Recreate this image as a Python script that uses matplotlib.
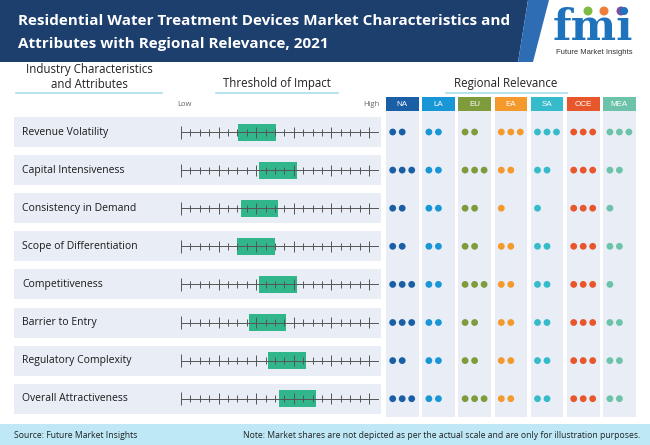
import numpy as np
import matplotlib
matplotlib.use("Agg")
import matplotlib.pyplot as plt
from matplotlib.patches import Rectangle, Polygon, Circle

plt.rcParams['font.family'] = ['Open Sans', 'DejaVu Sans']

# data
title = ("Residential Water Treatment Devices Market Characteristics and\n"
         "Attributes with Regional Relevance, 2021")
attributes = ["Revenue Volatility", "Capital Intensiveness", "Consistency in Demand",
              "Scope of Differentiation", "Competitiveness", "Barrier to Entry",
              "Regulatory Complexity", "Overall Attractiveness"]
# threshold of impact on a 0-21 tick scale (box start), box spans 4 ticks
impact_start = [6.05, 8.3, 6.35, 6.0, 8.3, 7.2, 9.3, 10.4]
impact_width = [4.0, 4.0, 4.0, 4.0, 4.0, 4.0, 4.0, 4.0]
n_ticks = 21

regions = ["NA", "LA", "EU", "EA", "SA", "OCE", "MEA"]
region_colors = ["#1A5EA6", "#1996D5", "#7E9C3B", "#F49A2C", "#36BBCA", "#E8572B", "#6CC3A9"]
# number of dots per attribute (rows) and region (columns)
relevance = [
    [2, 2, 2, 3, 3, 3, 3],
    [3, 2, 3, 2, 2, 3, 2],
    [2, 2, 2, 1, 1, 3, 1],
    [2, 2, 2, 2, 2, 3, 2],
    [3, 2, 3, 2, 2, 3, 1],
    [3, 2, 2, 2, 2, 3, 2],
    [2, 2, 2, 2, 2, 3, 2],
    [3, 2, 3, 2, 2, 3, 2],
]

# layout (pixel units)
W, H = 650, 445
row_y = 132 + 38.1 * np.arange(len(attributes))
band_bg = "#E9EDF5"

fig = plt.figure(figsize=(W / 100, H / 100), dpi=100)
ax = fig.add_axes([0, 0, 1, 1])
ax.set_xlim(0, W)
ax.set_ylim(H, 0)
ax.axis('off')

# header banner
ax.add_patch(Polygon([(0, 0), (528, 0), (518, 62), (0, 62)], closed=True,
                     facecolor="#1C3F6E", edgecolor="none"))
ax.add_patch(Polygon([(528, 0), (549, 0), (533, 62), (518, 62)], closed=True,
                     facecolor="#2E6DB4", edgecolor="none"))
ax.text(18, 21, title.split("\n")[0], color="white", fontsize=10.95, fontweight="bold",
        va="center", ha="left")
ax.text(18, 44, title.split("\n")[1], color="white", fontsize=10.95, fontweight="bold",
        va="center", ha="left")

# logo
ax.text(593, 28, "fmi", color="#1F72BC", fontsize=31, fontweight="bold",
        family="DejaVu Serif", ha="center", va="center")
for cx, c in zip([588, 604, 621], ["#7DBB42", "#EF7E3A", "#7B4E9E"]):
    ax.add_patch(Circle((cx, 11), 4.5, facecolor=c, edgecolor="none"))
ax.text(594, 52, "Future Market Insights", color="#333333", fontsize=5.5,
        family="Liberation Sans", ha="center", va="center")

# section headers
ax.text(89, 70, "Industry Characteristics", fontsize=8.3, ha="center", va="center", color="#222222")
ax.text(89, 85, "and Attributes", fontsize=8.3, ha="center", va="center", color="#222222")
ax.plot([16, 162], [92.5, 92.5], color="#A9DDEF", lw=1.2)
ax.text(277, 84, "Threshold of Impact", fontsize=8.3, ha="center", va="center", color="#222222")
ax.plot([216, 338], [92.5, 92.5], color="#A9DDEF", lw=1.2)
ax.text(506, 84, "Regional Relevance", fontsize=8.3, ha="center", va="center", color="#222222")
ax.plot([446, 567], [92.5, 92.5], color="#A9DDEF", lw=1.2)
ax.text(184, 104, "Low", fontsize=5.5, ha="center", va="center", color="#666666")
ax.text(379, 104, "High", fontsize=5.5, ha="right", va="center", color="#666666")

# row bands and labels
for y, name in zip(row_y, attributes):
    ax.add_patch(Rectangle((14, y - 15), 367, 30, facecolor=band_bg, edgecolor="none"))
    ax.text(22, y, name, fontsize=7.5, ha="left", va="center", color="#1A1A1A")

# threshold panel with its own scale
tax = fig.add_axes([181 / W, 0, (378.5 - 181) / W, 1])
tax.set_xlim(0, n_ticks)
tax.set_ylim(H, 0)
tax.axis('off')
tax.barh(row_y, impact_width, left=impact_start, height=17, color="#31B58A", zorder=2)
ticks = np.arange(n_ticks + 1)
tick_h = np.where(ticks % 4 == 0, 5.5, 3.5)
tick_h[0] = tick_h[-1] = 6.5
for y in row_y:
    tax.plot([0, n_ticks], [y, y], color="#555555", lw=0.7, zorder=3)
    tax.vlines(ticks, y - tick_h, y + tick_h, color="#555555", lw=0.7, zorder=3)

# regional columns
col_left = 386 + 36.2 * np.arange(len(regions))
col_w = 32.5
rel = np.array(relevance)
for j, (reg, c) in enumerate(zip(regions, region_colors)):
    x0 = col_left[j]
    ax.add_patch(Rectangle((x0, 111), col_w, 306, facecolor=band_bg, edgecolor="none"))
    ax.add_patch(Rectangle((x0, 97), col_w, 14, facecolor=c, edgecolor="none"))
    ax.text(x0 + col_w / 2, 104.5, reg, color="white", fontsize=5.8,
            family="Liberation Sans", ha="center", va="center")
    for i, y in enumerate(row_y):
        n = rel[i, j]
        xs = x0 + 6.7 + 9.5 * np.arange(n)
        ax.scatter(xs, np.full(n, y), s=24, color=c, edgecolors="none", zorder=3)

# footer
ax.add_patch(Rectangle((0, 424), W, 21, facecolor="#BEE8F6", edgecolor="none"))
ax.text(14, 435, "Source: Future Market Insights", fontsize=6.2, ha="left", va="center", color="#222222")
ax.text(640, 435, "Note: Market shares are not depicted as per the actual scale and are only for illustration purposes.",
        fontsize=6.2, ha="right", va="center", color="#222222")

fig.savefig("out.png", dpi=100)
